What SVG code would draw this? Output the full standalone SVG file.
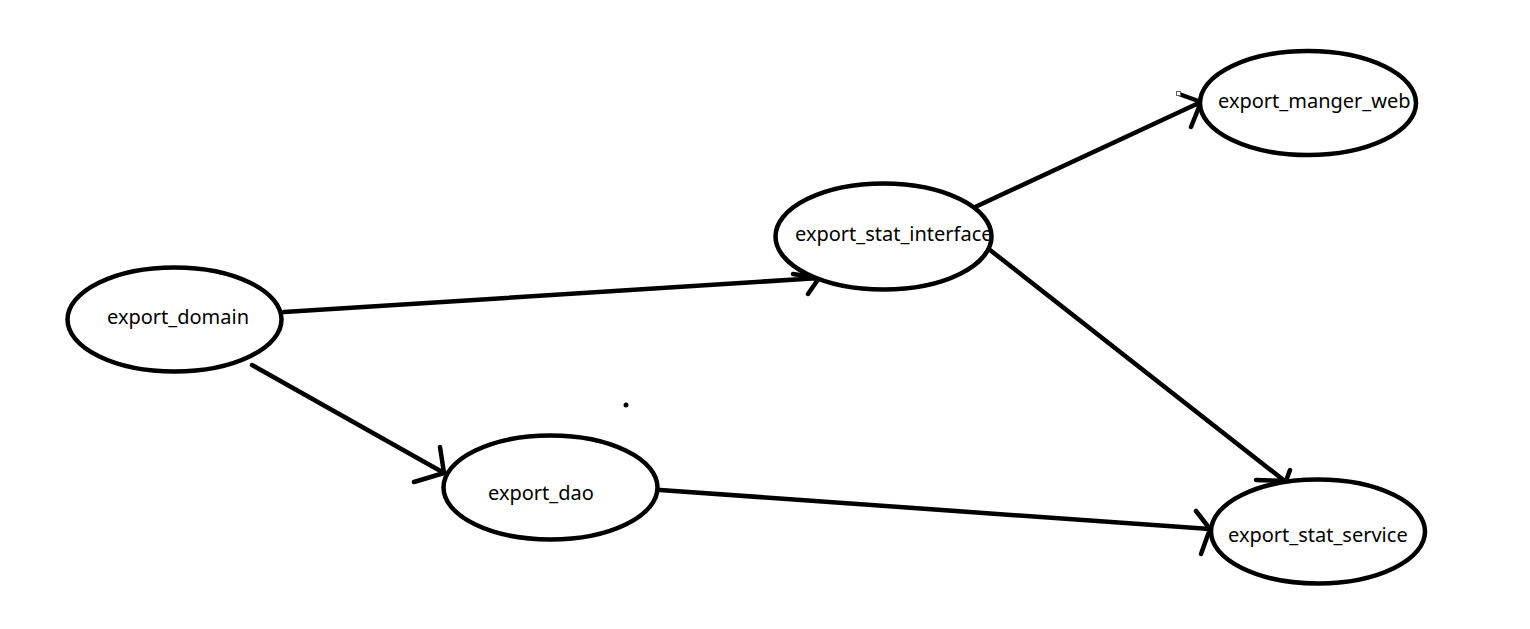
<svg xmlns="http://www.w3.org/2000/svg" width="1530" height="629" viewBox="0 0 1530 629">
<style>
.n{fill:#fff;stroke:#000;stroke-width:4.5}
.t{font-family:"Noto Sans","Liberation Sans",sans-serif;font-size:20px;fill:#000}
.c{fill:none;stroke:#000;stroke-width:4.5;stroke-linecap:round;stroke-linejoin:round}
.h{fill:#fff;stroke:#666;stroke-width:1}
</style>
<rect width="1530" height="629" fill="#fff"/>
<g id="connectors">
<path class="c" d="M284 312 L819 278 M793 274 L819 278 L808 294"/>
<path class="c" d="M252 365 L444 473 M440 447 L444 473 L414 482"/>
<path class="c" d="M973 208 L1201 102 M1179 94 L1201 102 L1191 127"/>
<path class="c" d="M990 250 L1286 482 M1256 480 L1286 481 L1290 470 M1286 481 L1287 488"/>
<path class="c" d="M660 490 L1210 529 M1196 511 L1210 529 L1201 554"/>
<rect class="h" x="1176.5" y="91.5" width="4" height="4"/>
<rect class="h" x="1202.5" y="100.5" width="4" height="4"/>
</g>
<g id="export_domain"><ellipse class="n" cx="174.5" cy="319.5" rx="107" ry="52"/><text class="t" x="107" y="324">export_domain</text></g>
<g id="export_dao"><ellipse class="n" cx="550.5" cy="487.5" rx="107" ry="52"/><text class="t" x="488" y="500">export_dao</text></g>
<g id="export_stat_interface"><ellipse class="n" cx="883.5" cy="236.5" rx="108" ry="53"/><text class="t" x="795" y="241">export_stat_interface</text></g>
<g id="export_manger_web"><ellipse class="n" cx="1308" cy="103" rx="108" ry="52"/><text class="t" x="1218" y="108">export_manger_web</text></g>
<g id="export_stat_service"><ellipse class="n" cx="1318" cy="531.5" rx="107" ry="52"/><text class="t" x="1228" y="542">export_stat_service</text></g>
<circle cx="626" cy="405" r="2.5" fill="#000"/>
</svg>
